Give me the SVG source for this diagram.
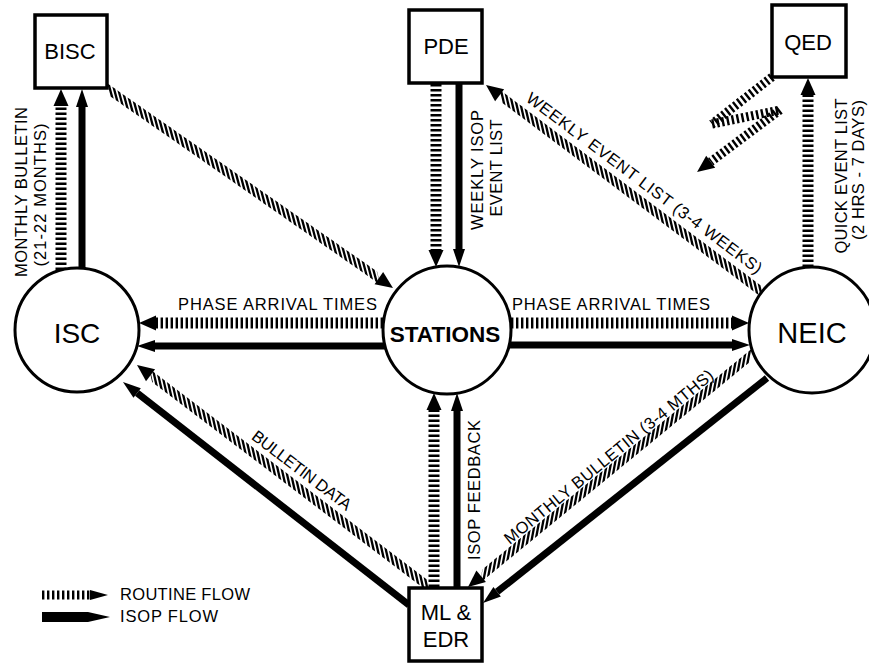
<svg xmlns="http://www.w3.org/2000/svg" width="869" height="663" viewBox="0 0 869 663">
<style>
.box{fill:#fff;stroke:#000;stroke-width:3.5}
.cir{fill:#fff;stroke:#000;stroke-width:3}
.t{font-family:"Liberation Sans",Arial,Helvetica,sans-serif;fill:#000}
.n{font-size:22px}
.e{font-size:16.5px}
.rt{stroke:#000;stroke-width:11;stroke-dasharray:2.4 2.6;fill:none}
.rtd{stroke:#000;stroke-width:9;stroke-dasharray:3.6 2.6;fill:none}
.rtq{stroke:#000;stroke-width:9;stroke-dasharray:2.4 2.6;fill:none}
.iso{stroke:#000;stroke-width:7;fill:none}
.ah{fill:#000}
</style>
<rect x="0" y="0" width="869" height="663" fill="#fff"/>

<g id="connectors">
  <!-- ISC -> BISC routine -->
  <g transform="translate(61,270) rotate(-90)"><line class="rt" x1="0" y1="0" x2="164" y2="0"/><polygon class="ah" points="164,-7.5 181,0 164,7.5"/></g>
  <!-- ISC -> BISC ISOP -->
  <g transform="translate(82,268) rotate(-90)"><line class="iso" x1="0" y1="0" x2="161" y2="0"/><polygon class="ah" points="161,-6 179,0 161,6"/></g>
  <!-- BISC -> STATIONS routine -->
  <g transform="translate(109,90) rotate(34.89)"><line class="rtd" x1="0" y1="0" x2="329" y2="0" transform="skewX(50)"/><polygon class="ah" points="329,-7.5 346.2,0 329,7.5"/></g>
  <!-- NEIC -> PDE routine -->
  <g transform="translate(762,292) rotate(-143.13)"><line class="rtd" x1="0" y1="0" x2="328" y2="0" transform="skewX(50)"/><polygon class="ah" points="328,-7.5 345,0 328,7.5"/></g>
  <!-- NEIC -> QED routine -->
  <g transform="translate(808,267) rotate(-90)"><line class="rt" x1="0" y1="0" x2="172" y2="0"/><polygon class="ah" points="172,-7.5 189,0 172,7.5"/></g>
  <!-- QED -> outside (lightning-style routine) -->
  <g transform="translate(772,77) rotate(141.93)"><line class="rtq" x1="0" y1="0" x2="76.2" y2="0"/></g>
  <g transform="translate(712,124) rotate(-11.6)"><line class="rtq" x1="0" y1="0" x2="69.4" y2="0"/></g>
  <g transform="translate(780,110) rotate(143.24)"><line class="rtq" x1="0" y1="0" x2="86.5" y2="0"/><polygon class="ah" points="86.5,-7.5 103.5,0 86.5,7.5"/></g>
  <!-- STATIONS -> ISC routine -->
  <g transform="translate(383,323) rotate(180)"><line class="rt" x1="0" y1="0" x2="227" y2="0"/><polygon class="ah" points="227,-7.5 244,0 227,7.5"/></g>
  <!-- STATIONS -> ISC ISOP -->
  <g transform="translate(385,346) rotate(180)"><line class="iso" x1="0" y1="0" x2="230" y2="0"/><polygon class="ah" points="230,-6 248,0 230,6"/></g>
  <!-- STATIONS -> NEIC routine -->
  <g transform="translate(511,323)"><line class="rt" x1="0" y1="0" x2="221" y2="0"/><polygon class="ah" points="221,-7.5 238,0 221,7.5"/></g>
  <!-- STATIONS -> NEIC ISOP -->
  <g transform="translate(509,345)"><line class="iso" x1="0" y1="0" x2="223" y2="0"/><polygon class="ah" points="223,-6 241,0 223,6"/></g>
  <!-- PDE -> STATIONS routine -->
  <g transform="translate(436,84) rotate(90)"><line class="rt" x1="0" y1="0" x2="166" y2="0"/><polygon class="ah" points="166,-7.5 183,0 166,7.5"/></g>
  <!-- PDE -> STATIONS ISOP -->
  <g transform="translate(459,84) rotate(90)"><line class="iso" x1="0" y1="0" x2="165" y2="0"/><polygon class="ah" points="165,-6 183,0 165,6"/></g>
  <!-- ML&EDR -> STATIONS routine -->
  <g transform="translate(434,587) rotate(-90)"><line class="rt" x1="0" y1="0" x2="177" y2="0"/><polygon class="ah" points="177,-7.5 194,0 177,7.5"/></g>
  <!-- ML&EDR -> STATIONS ISOP -->
  <g transform="translate(457,587) rotate(-90)"><line class="iso" x1="0" y1="0" x2="176" y2="0"/><polygon class="ah" points="176,-6 194,0 176,6"/></g>
  <!-- ML&EDR -> ISC routine -->
  <g transform="translate(428,586) rotate(-142.78)"><line class="rtd" x1="0" y1="0" x2="348.4" y2="0" transform="skewX(50)"/><polygon class="ah" points="348.4,-7.5 365.4,0 348.4,7.5"/></g>
  <!-- ML&EDR -> ISC ISOP -->
  <g transform="translate(409,605) rotate(-142.06)"><line class="iso" x1="0" y1="0" x2="344.7" y2="0"/><polygon class="ah" points="344.7,-6 362.7,0 344.7,6"/></g>
  <!-- NEIC -> ML&EDR routine -->
  <g transform="translate(750,356) rotate(140.68)"><line class="rtd" x1="0" y1="0" x2="347.5" y2="0" transform="skewX(-50)"/><polygon class="ah" points="347.5,-7.5 364.5,0 347.5,7.5"/></g>
  <!-- NEIC -> ML&EDR ISOP -->
  <g transform="translate(767,378) rotate(141.61)"><line class="iso" x1="0" y1="0" x2="344.3" y2="0"/><polygon class="ah" points="344.3,-6 362.3,0 344.3,6"/></g>
</g>

<g id="edge-labels" class="t e">
  <text transform="translate(27,192) rotate(-90)" text-anchor="middle" textLength="170">MONTHLY BULLETIN</text>
  <text transform="translate(46,195) rotate(-90)" text-anchor="middle" textLength="143">(21-22 MONTHS)</text>
  <text transform="translate(483,170) rotate(-90)" text-anchor="middle" textLength="120">WEEKLY ISOP</text>
  <text transform="translate(502,168) rotate(-90)" text-anchor="middle" textLength="97">EVENT LIST</text>
  <text transform="translate(847,176) rotate(-90)" text-anchor="middle" textLength="155">QUICK EVENT LIST</text>
  <text transform="translate(864,170) rotate(-90)" text-anchor="middle" textLength="140">(2 HRS - 7 DAYS)</text>
  <text transform="translate(480,490) rotate(-90)" text-anchor="middle" textLength="140">ISOP FEEDBACK</text>
  <text x="277.5" y="310" text-anchor="middle" textLength="199">PHASE ARRIVAL TIMES</text>
  <text x="611" y="310" text-anchor="middle" textLength="198">PHASE ARRIVAL TIMES</text>
  <text transform="translate(298.4,474.8) rotate(37.2)" text-anchor="middle" textLength="120">BULLETIN DATA</text>
  <text transform="translate(641,187.5) rotate(36.9)" text-anchor="middle" textLength="290">WEEKLY EVENT LIST (3-4 WEEKS)</text>
  <text transform="translate(612.3,461.1) rotate(-39.3)" text-anchor="middle" textLength="265">MONTHLY BULLETIN (3-4 MTHS)</text>
</g>

<g id="BISC"><rect class="box" x="35" y="15" width="72" height="73"/><text class="t n" x="70" y="59" text-anchor="middle" font-size="22">BISC</text></g>
<g id="PDE"><rect class="box" x="409" y="10" width="73" height="73"/><text class="t n" x="446" y="54" text-anchor="middle">PDE</text></g>
<g id="QED"><rect class="box" x="772" y="5" width="74" height="72"/><text class="t n" x="808" y="50" text-anchor="middle">QED</text></g>
<g id="ISC"><circle class="cir" cx="77" cy="330" r="62"/><text class="t" x="77" y="343" text-anchor="middle" font-size="28">ISC</text></g>
<g id="STATIONS"><circle class="cir" cx="447" cy="330" r="64"/><text class="t" x="445" y="342" text-anchor="middle" font-size="22.5" font-weight="bold">STATIONS</text></g>
<g id="NEIC"><circle class="cir" cx="812" cy="330" r="63"/><text class="t" x="812" y="343" text-anchor="middle" font-size="29">NEIC</text></g>
<g id="MLEDR"><rect class="box" x="409" y="588" width="73" height="73"/><text class="t n" x="446" y="620" text-anchor="middle">ML &amp;</text><text class="t n" x="446" y="647" text-anchor="middle">EDR</text></g>

<g id="legend">
  <line x1="42" y1="595" x2="90" y2="595" stroke="#000" stroke-width="9" stroke-dasharray="2.4 2.6"/>
  <polygon class="ah" points="90,590 108,595 90,600"/>
  <text class="t e" x="120" y="600" textLength="130">ROUTINE FLOW</text>
  <polygon class="ah" points="42,612 88,612 110,617 88,622 42,622"/>
  <text class="t e" x="120" y="622" textLength="98">ISOP FLOW</text>
</g>
</svg>
